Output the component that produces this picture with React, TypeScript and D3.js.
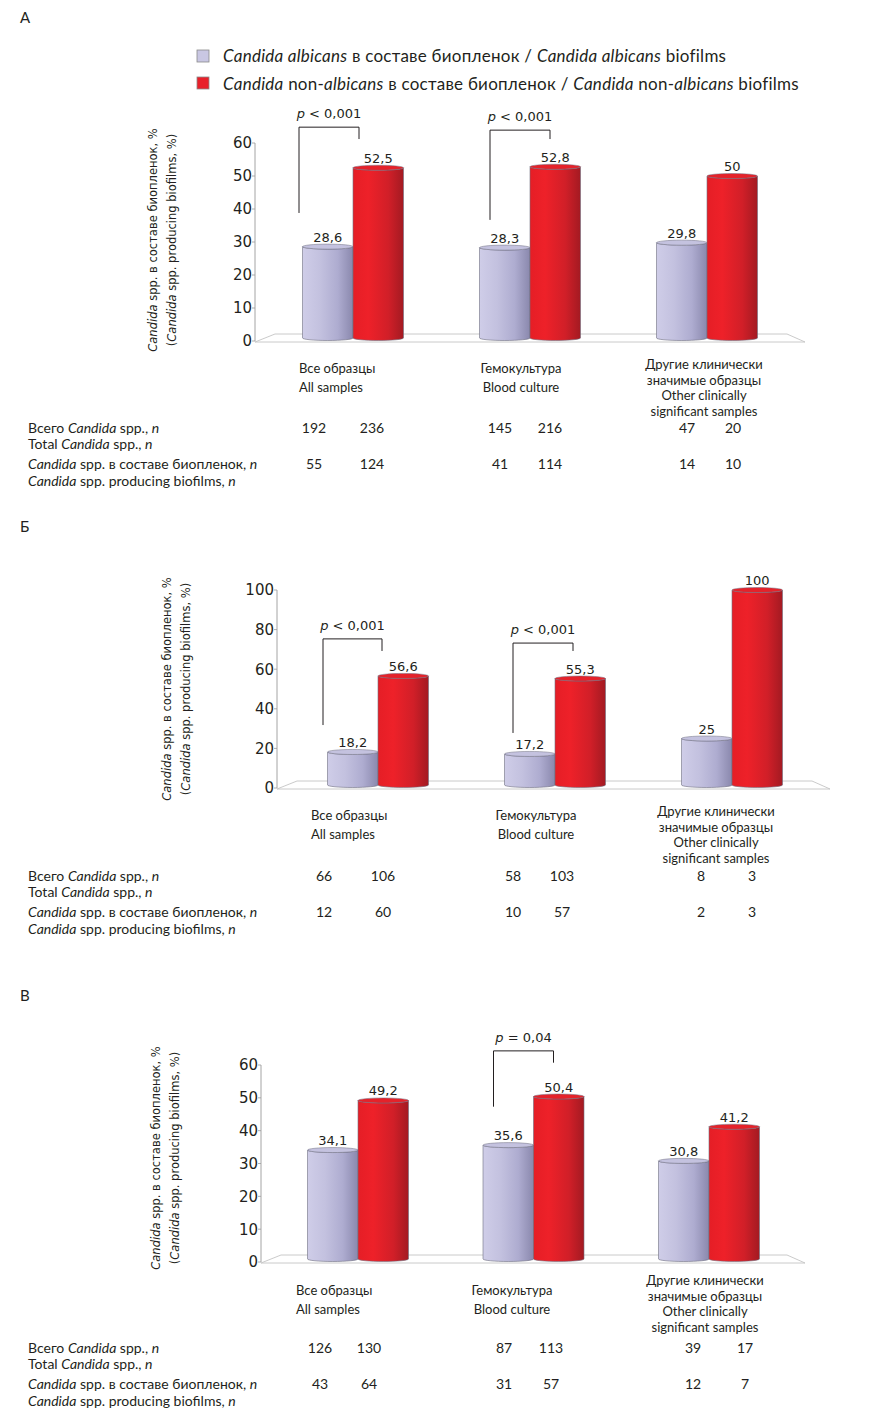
import React from 'react';
import * as d3 from 'd3';

// group indices: 0 = all samples, 1 = blood culture, 2 = other clinically significant
const groups = [0, 1, 2];

const catLines: string[][] = [
  ['Все образцы', 'All samples'],
  ['Гемокультура', 'Blood culture'],
  ['Другие клинически', 'значимые образцы', 'Other clinically', 'significant samples'],
];

// panel А
const albA = [28.6, 28.3, 29.8];
const nonA = [52.5, 52.8, 50];
const totalAlbA = [192, 145, 47];
const totalNonA = [236, 216, 20];
const bioAlbA = [55, 41, 14];
const bioNonA = [124, 114, 10];
const ticksA = [0, 10, 20, 30, 40, 50, 60];

// panel Б
const albB = [18.2, 17.2, 25];
const nonB = [56.6, 55.3, 100];
const totalAlbB = [66, 58, 8];
const totalNonB = [106, 103, 3];
const bioAlbB = [12, 10, 2];
const bioNonB = [60, 57, 3];
const ticksB = [0, 20, 40, 60, 80, 100];

// panel В
const albC = [34.1, 35.6, 30.8];
const nonC = [49.2, 50.4, 41.2];
const totalAlbC = [126, 87, 39];
const totalNonC = [130, 113, 17];
const bioAlbC = [43, 31, 12];
const bioNonC = [64, 57, 7];
const ticksC = [0, 10, 20, 30, 40, 50, 60];

interface Bracket { group: number; text: string; dx1: number; dx2: number; top: number; left: number; right: number }

const bracketsA: Bracket[] = [
  { group: 0, text: '< 0,001', dx1: -54, dx2: 6, top: 64.8, left: 38.8, right: 61.2 },
  { group: 1, text: '< 0,001', dx1: -40, dx2: 20, top: 63.9, left: 36.7, right: 61.2 },
];
const bracketsB: Bracket[] = [
  { group: 0, text: '< 0,001', dx1: -55, dx2: 4, top: 75.3, left: 31.8, right: 69.2 },
  { group: 1, text: '< 0,001', dx1: -42, dx2: 18, top: 73.2, left: 27.8, right: 69.2 },
];
const bracketsC: Bracket[] = [
  { group: 1, text: '= 0,04', dx1: -40, dx2: 20, top: 64.3, left: 47.3, right: 60.7 },
];

const TXT = '#231f20';
const SANS = 'Lato, sans-serif';
const GEO = '"DejaVu Sans", sans-serif';

interface PanelProps {
  letter: string;
  letterY: number;
  alb: number[];
  non: number[];
  totalAlb: number[];
  totalNon: number[];
  bioAlb: number[];
  bioNon: number[];
  ticks: number[];
  brackets: Bracket[];
  axisX: number;
  y0: number;
  yTop: number;
  firstCenter: number;
  step: number;
  floorRight: number;
  ylabX: number;
  ylabY: number;
  catX: number[];
  catAnchor: ('start' | 'middle' | 'end')[];
  cat2Y: number;
  cat4Y: number;
  cols: number[];
  tableY: number;
}

const Cylinder: React.FC<{ x: number; w: number; yt: number; yb: number; fill: string; cap: string }> = ({ x, w, yt, yb, fill, cap }) => {
  const rx = w / 2;
  const ry = 2.5;
  const d = `M${x},${yt} L${x},${yb} A${rx},${ry} 0 0 0 ${x + w},${yb} L${x + w},${yt} A${rx},${ry} 0 0 1 ${x},${yt} Z`;
  return (
    <g>
      <path d={d} fill={fill} stroke="#6e6e80" strokeWidth={0.6} />
      <ellipse cx={x + rx} cy={yt} rx={rx} ry={ry} fill={cap} stroke="#6e6e80" strokeWidth={0.5} />
    </g>
  );
};

const Panel: React.FC<PanelProps> = (p) => {
  const y = d3.scaleLinear().domain([0, p.ticks[p.ticks.length - 1]]).range([p.y0, p.yTop]);
  const x = d3.scalePoint<number>().domain(groups).range([p.firstCenter, p.firstCenter + 2 * p.step]);
  const bw = 50.5;
  const baseY = p.y0 - 3;
  const floor = [
    [p.axisX, p.y0 + 1],
    [p.floorRight, p.y0 + 1],
    [p.floorRight - 18, p.y0 - 7],
    [p.axisX + 20, p.y0 - 7],
  ];
  const r1 = p.tableY;
  const rows = [r1, r1 + 16, r1 + 36, r1 + 53];

  return (
    <g>
      <text x={20} y={p.letterY} fontFamily={SANS} fontSize={15} fill={TXT}>{p.letter}</text>

      {/* y label */}
      <g fontFamily={GEO} fontSize={11.5} fill={TXT}>
        <text transform={`translate(${p.ylabX},${p.ylabY}) rotate(-90)`} textAnchor="middle" dy="0.35em">
          <tspan fontStyle="italic">Candida</tspan> spp. в составе биопленок, %
        </text>
        <text transform={`translate(${p.ylabX + 19},${p.ylabY}) rotate(-90)`} textAnchor="middle" dy="0.35em">
          (<tspan fontStyle="italic">Candida</tspan> spp. producing biofilms, %)
        </text>
      </g>

      {/* floor */}
      <polygon points={floor.map((q) => q.join(',')).join(' ')} fill="#fff" stroke="#c4c4c4" strokeWidth={0.9} />

      {/* axis */}
      <line x1={p.axisX} x2={p.axisX} y1={p.y0} y2={y(p.ticks[p.ticks.length - 1])} stroke="#9a9a9a" strokeWidth={0.9} />
      {p.ticks.map((t) => (
        <g key={t}>
          <line x1={p.axisX - 3} x2={p.axisX} y1={y(t)} y2={y(t)} stroke="#9a9a9a" strokeWidth={0.8} />
          <text x={p.axisX - 3} y={y(t)} dy="0.36em" textAnchor="end" fontFamily={GEO} fontSize={15} fill={TXT}>{t}</text>
        </g>
      ))}

      {/* bars */}
      {groups.map((g) => {
        const c = x(g) as number;
        return (
          <g key={g}>
            <Cylinder x={c - bw} w={bw} yt={y(p.alb[g])} yb={baseY} fill="url(#gradAlb)" cap="#c4c2df" />
            <Cylinder x={c} w={bw} yt={y(p.non[g])} yb={baseY} fill="url(#gradNon)" cap="#e5222a" />
            <text x={c - bw / 2} y={y(p.alb[g]) - 5} textAnchor="middle" fontFamily={GEO} fontSize={13} fill={TXT}>
              {String(p.alb[g]).replace('.', ',')}
            </text>
            <text x={c + bw / 2} y={y(p.non[g]) - 5} textAnchor="middle" fontFamily={GEO} fontSize={13} fill={TXT}>
              {String(p.non[g]).replace('.', ',')}
            </text>
          </g>
        );
      })}

      {/* significance brackets */}
      {p.brackets.map((b, i) => {
        const c = x(b.group) as number;
        const x1 = c + b.dx1;
        const x2 = c + b.dx2;
        return (
          <g key={i}>
            <path d={`M${x1},${y(b.left)} V${y(b.top)} H${x2} V${y(b.right)}`} fill="none" stroke="#231f20" strokeWidth={1} />
            <text x={(x1 + x2) / 2} y={y(b.top) - 9} textAnchor="middle" fontFamily={GEO} fontSize={13} fill={TXT}>
              <tspan fontStyle="italic">p</tspan> {b.text}
            </text>
          </g>
        );
      })}

      {/* category labels */}
      {groups.map((g) => {
        const lines = catLines[g];
        const startY = lines.length > 2 ? p.cat4Y : p.cat2Y;
        const gap = lines.length > 2 ? 15.5 : 19;
        return (
          <text key={g} fontFamily={SANS} fontSize={13} fill={TXT} textAnchor={p.catAnchor[g]}>
            {lines.map((l, i) => (
              <tspan key={i} x={p.catX[g]} y={startY + i * gap}>{l}</tspan>
            ))}
          </text>
        );
      })}

      {/* table */}
      <g fontFamily={SANS} fontSize={14} fill={TXT}>
        <text x={28} y={rows[0]}>Всего <tspan fontStyle="italic">Candida</tspan> spp., <tspan fontStyle="italic">n</tspan></text>
        <text x={28} y={rows[1]}>Total <tspan fontStyle="italic">Candida</tspan> spp., <tspan fontStyle="italic">n</tspan></text>
        <text x={28} y={rows[2]}><tspan fontStyle="italic">Candida</tspan> spp. в составе биопленок, <tspan fontStyle="italic">n</tspan></text>
        <text x={28} y={rows[3]}><tspan fontStyle="italic">Candida</tspan> spp. producing biofilms, <tspan fontStyle="italic">n</tspan></text>
        {groups.map((g) => (
          <g key={g} textAnchor="middle">
            <text x={p.cols[g * 2]} y={rows[0]}>{p.totalAlb[g]}</text>
            <text x={p.cols[g * 2 + 1]} y={rows[0]}>{p.totalNon[g]}</text>
            <text x={p.cols[g * 2]} y={rows[2]}>{p.bioAlb[g]}</text>
            <text x={p.cols[g * 2 + 1]} y={rows[2]}>{p.bioNon[g]}</text>
          </g>
        ))}
      </g>
    </g>
  );
};

const App: React.FC = () => {
  return (
    <svg width={889} height={1418} style={{ position: 'absolute', left: 0, top: 0, background: '#fff' }}>
      <defs>
        <linearGradient id="gradAlb" x1="0" x2="1" y1="0" y2="0">
          <stop offset="0" stopColor="#cfcde8" />
          <stop offset="0.35" stopColor="#c3c1df" />
          <stop offset="0.7" stopColor="#aeacd0" />
          <stop offset="1" stopColor="#8a88ad" />
        </linearGradient>
        <linearGradient id="gradNon" x1="0" x2="1" y1="0" y2="0">
          <stop offset="0" stopColor="#e51e26" />
          <stop offset="0.3" stopColor="#ee2129" />
          <stop offset="0.7" stopColor="#d11f28" />
          <stop offset="1" stopColor="#a31a22" />
        </linearGradient>
      </defs>

      {/* legend */}
      <g fontFamily={SANS} fontSize={17} fill={TXT} letterSpacing={0.25}>
        <rect x={197} y={50} width={12} height={12} fill="#c9c7e3" stroke="#8a8a8a" strokeWidth={0.8} />
        <text x={223} y={62}>
          <tspan fontStyle="italic">Candida albicans</tspan> в составе биопленок  / <tspan fontStyle="italic">Candida albicans</tspan> biofilms
        </text>
        <rect x={197} y={77} width={12} height={12} fill="#e8202a" stroke="#8a8a8a" strokeWidth={0.8} />
        <text x={223} y={90}>
          <tspan fontStyle="italic">Candida</tspan> non-<tspan fontStyle="italic">albicans</tspan> в составе биопленок  / <tspan fontStyle="italic">Candida</tspan> non-<tspan fontStyle="italic">albicans</tspan> biofilms
        </text>
      </g>

      <Panel
        letter="А" letterY={23}
        alb={albA} non={nonA} totalAlb={totalAlbA} totalNon={totalNonA} bioAlb={bioAlbA} bioNon={bioNonA}
        ticks={ticksA} brackets={bracketsA}
        axisX={255} y0={341} yTop={143} firstCenter={353} step={177} floorRight={805}
        ylabX={153} ylabY={240}
        catX={[299, 521, 704]} catAnchor={['start', 'middle', 'middle']} cat2Y={373} cat4Y={369}
        cols={[314, 372, 500, 550, 687, 733]} tableY={433}
      />
      <Panel
        letter="Б" letterY={532}
        alb={albB} non={nonB} totalAlb={totalAlbB} totalNon={totalNonB} bioAlb={bioAlbB} bioNon={bioNonB}
        ticks={ticksB} brackets={bracketsB}
        axisX={277} y0={788} yTop={590} firstCenter={378} step={177} floorRight={830}
        ylabX={167} ylabY={689}
        catX={[311, 536, 716]} catAnchor={['start', 'middle', 'middle']} cat2Y={820} cat4Y={816}
        cols={[324, 383, 513, 562, 701, 752]} tableY={881}
      />
      <Panel
        letter="В" letterY={1001}
        alb={albC} non={nonC} totalAlb={totalAlbC} totalNon={totalNonC} bioAlb={bioAlbC} bioNon={bioNonC}
        ticks={ticksC} brackets={bracketsC}
        axisX={261} y0={1262} yTop={1065} firstCenter={358} step={175.5} floorRight={805}
        ylabX={156} ylabY={1158}
        catX={[296, 512, 705]} catAnchor={['start', 'middle', 'middle']} cat2Y={1295} cat4Y={1285}
        cols={[320, 369, 504, 551, 693, 745]} tableY={1353}
      />
    </svg>
  );
};

export default App;
